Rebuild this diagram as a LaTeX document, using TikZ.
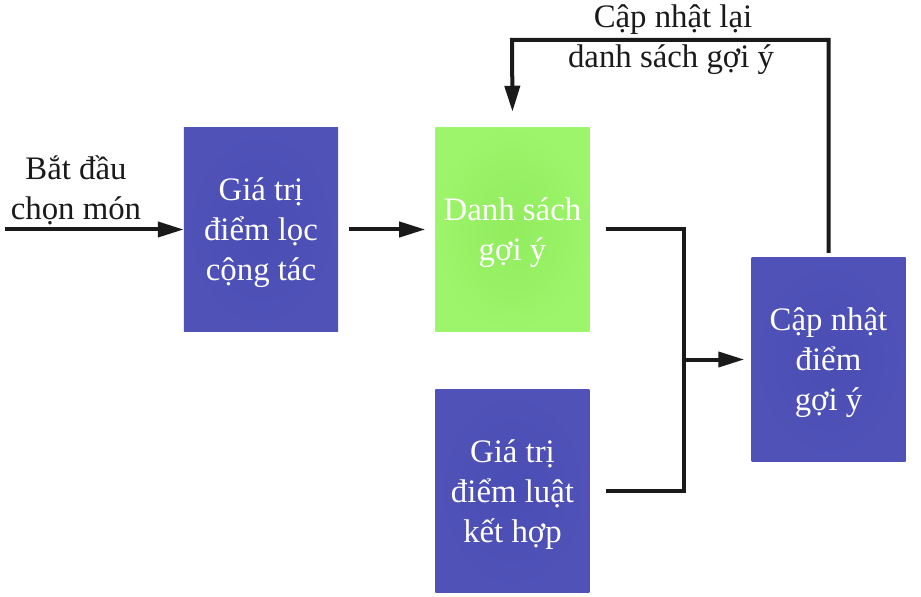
\documentclass[tikz,border=0pt]{standalone}
\usepackage{fontspec}
\setmainfont{Liberation Serif}
\usetikzlibrary{positioning,arrows.meta}

\definecolor{boxblue}{HTML}{5052B8}
\definecolor{boxbluec}{HTML}{4A4DB3}
\definecolor{boxgreen}{HTML}{9CF56A}
\definecolor{boxgreenc}{HTML}{92EC5E}
\definecolor{ink}{HTML}{1A1A1A}

\tikzset{
  block/.style={rectangle, minimum width=4.62cm, minimum height=6.09cm, inner sep=0pt,
    text=white, align=center, font=\fontsize{28}{34.2}\selectfont, text depth=-0.5pt},
  blueblock/.style={block, shading=radial, inner color=boxbluec, outer color=boxblue},
  greenblock/.style={block, shading=radial, inner color=boxgreenc, outer color=boxgreen},
  label/.style={text=ink, align=center, inner sep=0pt, font=\fontsize{28}{34.2}\selectfont},
  line/.style={draw=ink, line width=0.12cm},
  arr/.style={line, -{Triangle[length=0.78cm, width=0.45cm]}}
}

\begin{document}
\begin{tikzpicture}[x=0.03cm, y=-0.03cm]

	\useasboundingbox (0,0) rectangle (921,597);

	% Define nodes
	\node[blueblock]                          (loc)   at (261,229.5) {Giá trị\\điểm lọc\\cộng tác};
	\node[greenblock, right=2.91cm of loc]    (ds)    {Danh sách\\gợi ý};
	\node[blueblock, below=1.74cm of ds]      (luat)  {Giá trị\\điểm luật\\kết hợp};
	\node[blueblock]                          (capnhat) at (828.5,359.5) {Cập nhật\\điểm\\gợi ý};

	\coordinate (start) at (5,229.5);
	\coordinate (mid)   at (684,359.5);
	\coordinate (fb)    at (512,40);

	% Labels
	\node[label] (batdau) at (76,190) {Bắt đầu\\chọn món};
	\node[label, anchor=base] (lai)   at (673,28) {Cập nhật lại};
	\node[label, anchor=base] (dsgy)  at (671,68) {danh sách gợi ý};

	% Connect the nodes
	\draw[arr] (start) -- (loc.west);
	\draw[arr] ([xshift=.33cm]loc.east) -- ([xshift=-.3cm]ds.west);
	\draw[line] ([xshift=.48cm]ds.east) -| (mid) |- ([xshift=.48cm]luat.east);
	\draw[arr] (mid) -- ([xshift=-.21cm]capnhat.west);
	\draw[arr] ([yshift=.15cm]capnhat.north) |- (fb) -- ([yshift=.48cm]ds.north);

\end{tikzpicture}
\end{document}
